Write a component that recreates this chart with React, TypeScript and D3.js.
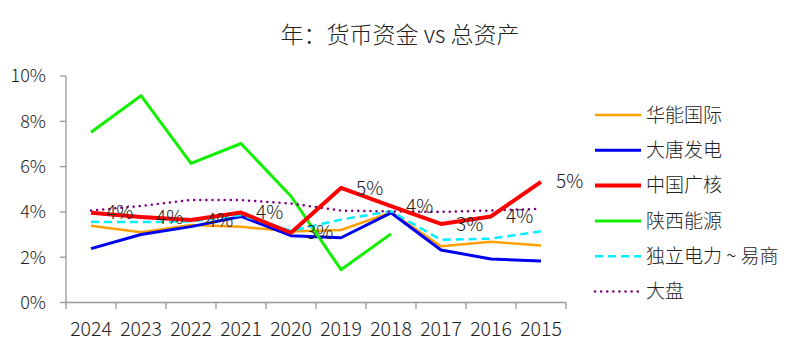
import React from "react";
import * as d3 from "d3";

const categories = ["2024", "2023", "2022", "2021", "2020", "2019", "2018", "2017", "2016", "2015"];
const huaneng = [3.39, 3.1, 3.42, 3.34, 3.14, 3.2, 3.98, 2.48, 2.68, 2.52];
const datang = [2.38, 3.0, 3.35, 3.8, 2.95, 2.86, 3.96, 2.32, 1.92, 1.83];
const cgn = [3.96, 3.78, 3.64, 3.97, 3.08, 5.06, 4.25, 3.47, 3.8, 5.33];
const shaanxi: (number | null)[] = [7.52, 9.13, 6.14, 7.02, 4.69, 1.45, 3.03, null, null, null];
const independent = [3.56, 3.55, 3.58, 3.86, 3.16, 3.66, 4.03, 2.77, 2.82, 3.14];
const market = [4.06, 4.26, 4.53, 4.52, 4.37, 4.06, 4.02, 4.0, 4.06, 4.14];
const yTicks = [0, 2, 4, 6, 8, 10];

const seriesNames = ["华能国际", "大唐发电", "中国广核", "陕西能源", "独立电力 ~ 易商", "大盘"];

const W = 800, H = 353;
const font = "'Noto Sans CJK SC', 'Noto Sans', sans-serif";

export default function App() {
  const x = d3.scaleBand<string>().domain(categories).range([66, 566]);
  const y = d3.scaleLinear().domain([0, 10]).range([302.5, 76]);
  const cx = (c: string) => (x(c) as number) + x.bandwidth() / 2;

  const series = [
    { name: seriesNames[0], data: huaneng, color: "#FFA000", width: 2.5, dash: undefined as string | undefined, cap: "butt" },
    { name: seriesNames[1], data: datang, color: "#0000F0", width: 3, dash: undefined, cap: "butt" },
    { name: seriesNames[3], data: shaanxi, color: "#11F000", width: 3, dash: undefined, cap: "butt" },
    { name: seriesNames[4], data: independent, color: "#00F0FF", width: 2.5, dash: "8,5", cap: "butt" },
    { name: seriesNames[5], data: market, color: "#800080", width: 2.5, dash: "0.1,6", cap: "round" },
    { name: seriesNames[2], data: cgn, color: "#FF0000", width: 4, dash: undefined, cap: "butt" },
  ];
  const legendOrder = [0, 1, 5, 2, 3, 4];

  const line = d3
    .line<number | null>()
    .defined((d) => d !== null)
    .x((_, i) => cx(categories[i]))
    .y((d) => y(d as number));

  const boundaries = [...categories.map((c) => x(c) as number), 566];

  return (
    <svg width={W} height={H} style={{ position: "absolute", left: 0, top: 0 }} fontFamily={font} fontWeight={300}>
      <rect width={W} height={H} fill="#fff" />
      <text x={400} y={43} textAnchor="middle" fontSize={23} fill="#222">
        年：货币资金 vs 总资产
      </text>
      {/* y axis */}
      <line x1={66} x2={66} y1={76} y2={302.5} stroke="#999" strokeWidth={1.3} />
      {yTicks.map((t) => (
        <g key={t}>
          <line x1={60} x2={66} y1={y(t)} y2={y(t)} stroke="#999" strokeWidth={1.3} />
          <text x={46} y={y(t)} dy="0.35em" textAnchor="end" fontSize={18} fill="#222">
            {t}%
          </text>
        </g>
      ))}
      {/* x axis */}
      <line x1={66} x2={566} y1={302.5} y2={302.5} stroke="#999" strokeWidth={1.3} />
      {boundaries.map((b, i) => (
        <line key={i} x1={b} x2={b} y1={302.5} y2={309} stroke="#999" strokeWidth={1.3} />
      ))}
      {categories.map((c) => (
        <text key={c} x={cx(c)} y={336} textAnchor="middle" fontSize={19.5} fill="#222">
          {c}
        </text>
      ))}
      {series.map((s) => (
        <path
          key={s.name}
          d={line(s.data as (number | null)[]) || ""}
          fill="none"
          stroke={s.color}
          strokeWidth={s.width}
          strokeDasharray={s.dash}
          strokeLinecap={s.cap as any}
          strokeLinejoin="round"
        />
      ))}
      {cgn.map((v, i) => (
        <text key={i} x={cx(categories[i]) + 15} y={y(v)} dy="0.35em" fontSize={19} fill="#222">
          {Math.round(v)}%
        </text>
      ))}
      {legendOrder.map((si, r) => {
        const s = series[si];
        const ly = 115 + r * 35.3;
        return (
          <g key={s.name}>
            <line
              x1={595}
              x2={641}
              y1={ly}
              y2={ly}
              stroke={s.color}
              strokeWidth={s.width}
              strokeDasharray={s.dash}
              strokeLinecap={s.cap as any}
            />
            <text x={646} y={ly} dy="0.35em" fontSize={19} fill="#222">
              {s.name}
            </text>
          </g>
        );
      })}
    </svg>
  );
}
